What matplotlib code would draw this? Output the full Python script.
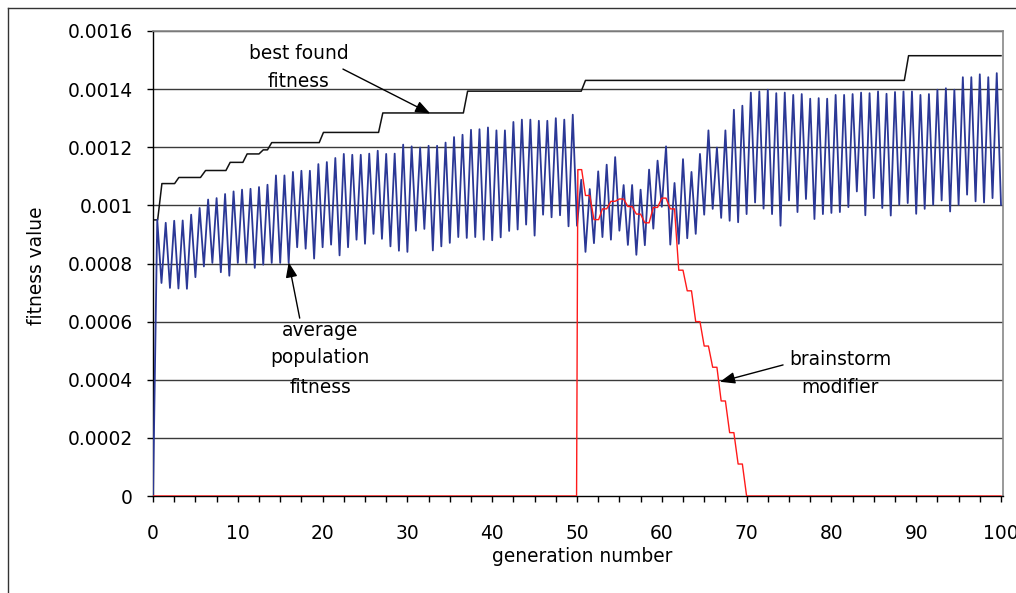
import matplotlib
matplotlib.use("Agg")
import matplotlib.pyplot as plt
from matplotlib.lines import Line2D

# ---------------- data ----------------
avg_peaks = [0.000951, 0.000940, 0.000947, 0.000948, 0.000968, 0.000991, 0.00102, 0.001025, 0.001039, 0.001048,
             0.001054, 0.001057, 0.001063, 0.001071, 0.001103, 0.001103, 0.001115, 0.001119, 0.001119, 0.001142,
             0.001149, 0.001163, 0.001177, 0.001174, 0.001174, 0.001178, 0.001188, 0.001177, 0.001178, 0.001209,
             0.001203, 0.001199, 0.001205, 0.001205, 0.001216, 0.001235, 0.001243, 0.00126, 0.001262, 0.001268,
             0.001258, 0.001258, 0.001287, 0.001295, 0.001295, 0.001291, 0.001291, 0.0013, 0.001295, 0.001312,
             0.001088, 0.001056, 0.001117, 0.00114, 0.001166, 0.00107, 0.00107, 0.001054, 0.001123, 0.001154,
             0.001203, 0.001077, 0.001159, 0.001115, 0.001177, 0.001258, 0.001199, 0.001258, 0.001329, 0.001343,
             0.001388, 0.001392, 0.001398, 0.001386, 0.001388, 0.00138, 0.001383, 0.001367, 0.001369, 0.001367,
             0.00138, 0.00138, 0.001383, 0.001388, 0.001386, 0.001392, 0.001384, 0.00139, 0.001392, 0.001392,
             0.00138, 0.001383, 0.001398, 0.001403, 0.001398, 0.001441, 0.001441, 0.001451, 0.001441, 0.001455]
avg_troughs = [0.000733, 0.000716, 0.000714, 0.000713, 0.000753, 0.00079, 0.000802, 0.00077, 0.000758, 0.000802,
               0.000802, 0.000785, 0.000796, 0.000802, 0.000802, 0.000802, 0.000856, 0.000851, 0.000817, 0.000856,
               0.000865, 0.000828, 0.000856, 0.000882, 0.000868, 0.000902, 0.000885, 0.000859, 0.000844, 0.00084,
               0.000913, 0.000919, 0.000845, 0.000859, 0.000871, 0.000891, 0.000888, 0.000891, 0.000882, 0.00088,
               0.00089, 0.000912, 0.000917, 0.000934, 0.000896, 0.000968, 0.000959, 0.000966, 0.000928, 0.00093,
               0.00084, 0.00087, 0.000891, 0.000882, 0.000913, 0.000864, 0.00083, 0.000863, 0.00092, 0.000995,
               0.000865, 0.000868, 0.000887, 0.000902, 0.000968, 0.000988, 0.000957, 0.000947, 0.000942, 0.00097,
               0.00101, 0.000989, 0.00097, 0.00093, 0.001017, 0.000977, 0.001022, 0.000953, 0.00097, 0.000974,
               0.000977, 0.000994, 0.001048, 0.000966, 0.001025, 0.000991, 0.000965, 0.001002, 0.001008, 0.000971,
               0.000988, 0.001002, 0.001017, 0.000979, 0.001002, 0.001037, 0.001014, 0.00101, 0.001025, 0.001002]
avg_start = 0.0

best_x = [0.2, 0.55, 1.05, 2.55, 3.05, 5.6, 6.2, 8.6, 9.1, 10.6, 11.1, 12.5, 13.0, 13.5, 14.0,
          19.6, 20.1, 26.6, 27.1, 36.6, 37.1, 50.5, 51.0, 88.6, 89.1, 100.0]
best_y = [0.00095, 0.00095, 0.001075, 0.001075, 0.001096, 0.001096, 0.00112, 0.00112, 0.001148, 0.001148,
          0.001177, 0.001177, 0.001191, 0.001191, 0.001216, 0.001216, 0.001251, 0.001251, 0.001318, 0.001318,
          0.001393, 0.001393, 0.00143, 0.00143, 0.001515, 0.001515]

brain_x = [0, 49.95, 50.1, 50.55, 51.0, 51.5, 52.0, 52.55, 53.0, 53.5, 54.0, 54.5, 55.0, 55.5, 56.0, 56.5,
           57.0, 57.5, 58.0, 58.5, 59.0, 59.5, 60.0, 60.5, 61.0, 61.5, 62.0, 62.5, 63.0, 63.5, 64.0, 64.5,
           65.0, 65.5, 66.0, 66.5, 67.0, 67.5, 68.0, 68.5, 69.0, 69.5, 70.0, 100.0]
brain_y = [0, 0, 0.001123, 0.001123, 0.001034, 0.001034, 0.000951, 0.000951, 0.000988, 0.000988, 0.001014,
           0.001014, 0.001022, 0.001022, 0.000996, 0.000996, 0.00097, 0.00097, 0.00094, 0.00094, 0.000993,
           0.000993, 0.001025, 0.001025, 0.000988, 0.000988, 0.000777, 0.000777, 0.000706, 0.000706, 0.0006,
           0.0006, 0.000516, 0.000516, 0.000443, 0.000443, 0.000327, 0.000327, 0.000218, 0.000218, 0.00011,
           0.00011, 0, 0]

x_ticks = [0, 10, 20, 30, 40, 50, 60, 70, 80, 90, 100]
y_ticks = [0, 0.0002, 0.0004, 0.0006, 0.0008, 0.001, 0.0012, 0.0014, 0.0016]
y_ticklabels = ["0", "0.0002", "0.0004", "0.0006", "0.0008", "0.001", "0.0012", "0.0014", "0.0016"]

# build average series: start point, then peak at k+0.5 and trough at k+1
avg_x = [0.0]
avg_y = [avg_start]
for k, (p, t) in enumerate(zip(avg_peaks, avg_troughs)):
    avg_x += [k + 0.5, k + 1.0]
    avg_y += [p, t]

# ---------------- figure ----------------
plt.rcParams['font.family'] = ['DejaVu Sans']
W, H = 1016, 593
fig = plt.figure(figsize=(W / 100, H / 100), dpi=100)
fig.patch.set_facecolor('white')

ax = fig.add_axes([153 / W, 97 / H, 850 / W, 465 / H])
ax.set_xlim(0, 850 / 8.48)
ax.set_ylim(0, 0.0016)

for yv in y_ticks[1:]:
    ax.axhline(yv, color='#3a3a3a', lw=1.0, zorder=1)

ax.plot(best_x, best_y, color='#111111', lw=1.1, zorder=3)
ax.plot(avg_x, avg_y, color='#2B3896', lw=1.3, zorder=4)
ax.plot(brain_x, brain_y, color='#FF1A1A', lw=1.0, zorder=5)

ax.set_xticks(x_ticks)
ax.set_xticks([i * 2.5 for i in range(41)], minor=True)
ax.set_yticks(y_ticks)
ax.set_yticklabels(y_ticklabels)
ax.tick_params(axis='both', which='both', direction='out', length=4.5, width=1, color='black')
ax.tick_params(axis='x', which='major', labelsize=13.4, pad=15.5)
ax.tick_params(axis='y', which='major', labelsize=13.4, pad=10)
for s in ['left', 'bottom']:
    ax.spines[s].set_color('black')
    ax.spines[s].set_linewidth(1.0)
for s in ['top', 'right']:
    ax.spines[s].set_color('#888888')
    ax.spines[s].set_linewidth(1.2)

fig.text(582 / W, 1 - 557 / H, "generation number", ha='center', va='center', fontsize=13.4)
fig.text(37 / W, 1 - 266 / H, "fitness value", ha='center', va='center', rotation=90, fontsize=13.4)

# annotations
fs = 13.4
ax.text(17.2, 0.001523, "best found", ha='center', va='center', fontsize=fs)
ax.text(17.2, 0.001426, "fitness", ha='center', va='center', fontsize=fs)
ax.text(19.7, 0.000571, "average", ha='center', va='center', fontsize=fs)
ax.text(19.7, 0.000475, "population", ha='center', va='center', fontsize=fs)
ax.text(19.7, 0.000375, "fitness", ha='center', va='center', fontsize=fs)
ax.text(81.0, 0.000471, "brainstorm", ha='center', va='center', fontsize=fs)
ax.text(81.0, 0.000372, "modifier", ha='center', va='center', fontsize=fs)

arrow_kw = dict(arrowstyle='-|>,head_length=0.9,head_width=0.35', color='black', lw=1.0, shrinkA=0, shrinkB=0)
ax.annotate("", xy=(32.7, 0.001316), xytext=(22.4, 0.001469), arrowprops=arrow_kw, zorder=6)
ax.annotate("", xy=(16.0, 0.000804), xytext=(17.3, 0.000612), arrowprops=arrow_kw, zorder=6)
ax.annotate("", xy=(66.86, 0.000393), xytext=(74.3, 0.000451), arrowprops=arrow_kw, zorder=6)

# outer chart frame
fig.add_artist(Line2D([7.5 / W, 7.5 / W], [0, 1 - 8 / H], transform=fig.transFigure, color='#333333', lw=1.0))
fig.add_artist(Line2D([7.5 / W, 1], [1 - 8 / H, 1 - 8 / H], transform=fig.transFigure, color='#333333', lw=1.0))

fig.savefig("out.png", dpi=100, facecolor='white')
